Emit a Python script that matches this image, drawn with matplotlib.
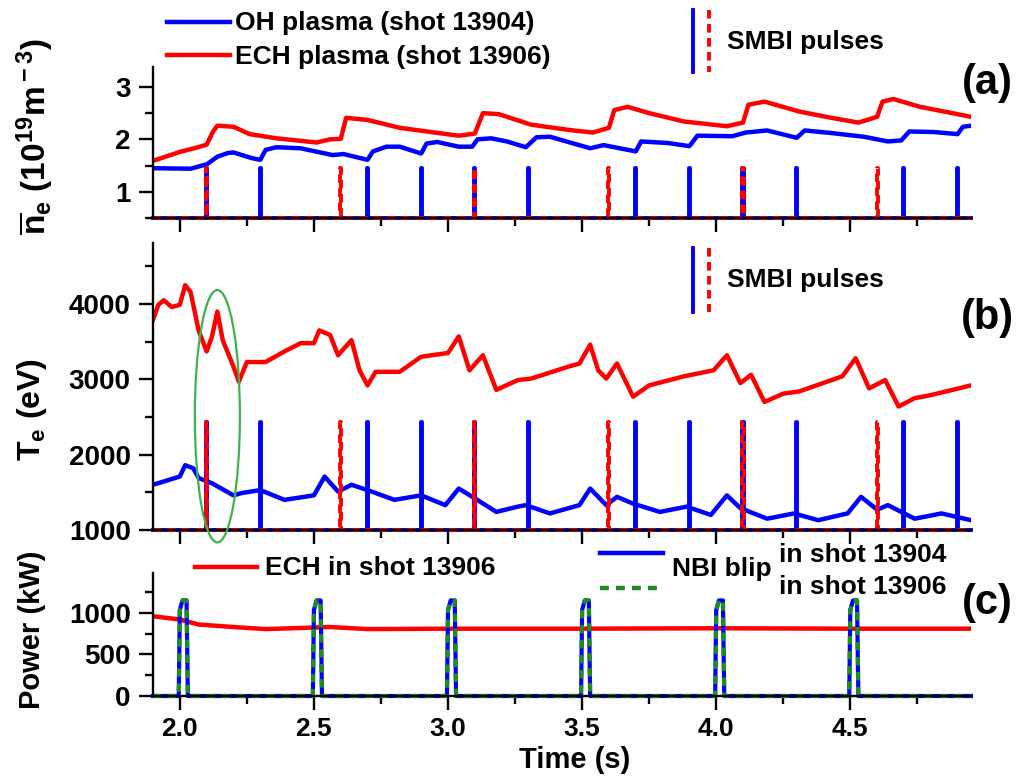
import numpy as np
import matplotlib
matplotlib.use('Agg')
import matplotlib.pyplot as plt
from matplotlib.lines import Line2D
from matplotlib.patches import Ellipse
from matplotlib.ticker import MultipleLocator, FormatStrFormatter

plt.rcParams['font.family'] = 'Liberation Sans'
plt.rcParams['font.weight'] = 'bold'
plt.rcParams['mathtext.fontset'] = 'custom'
plt.rcParams['mathtext.rm'] = 'Liberation Sans:bold'
plt.rcParams['mathtext.it'] = 'Liberation Sans:bold'
plt.rcParams['mathtext.bf'] = 'Liberation Sans:bold'

BLUE = '#0000ff'
RED = '#ff0000'
GREEN = '#1e8c1e'

# line-averaged density, OH shot 13904
ne_oh_t = [1.90, 2.04, 2.09, 2.10, 2.14, 2.18, 2.20, 2.27, 2.30, 2.32, 2.36, 2.45, 2.57, 2.61,
           2.70, 2.72, 2.77, 2.82, 2.90, 2.92, 2.96, 3.04, 3.09, 3.11, 3.16, 3.22, 3.29, 3.33,
           3.38, 3.53, 3.58, 3.70, 3.72, 3.82, 3.90, 3.93, 4.06, 4.11, 4.19, 4.30, 4.33, 4.43,
           4.55, 4.64, 4.69, 4.72, 4.81, 4.90, 4.92, 4.95]
ne_oh = [1.45, 1.44, 1.51, 1.52, 1.67, 1.74, 1.75, 1.64, 1.61, 1.80, 1.85, 1.83, 1.70, 1.72,
         1.61, 1.77, 1.86, 1.86, 1.73, 1.92, 1.95, 1.86, 1.86, 2.00, 2.02, 1.96, 1.85, 2.04,
         2.05, 1.83, 1.89, 1.77, 1.96, 1.93, 1.87, 2.07, 2.06, 2.13, 2.17, 2.03, 2.17, 2.12,
         2.05, 1.96, 1.98, 2.15, 2.14, 2.10, 2.24, 2.26]

# line-averaged density, ECH shot 13906
ne_ech_t = [1.90, 2.00, 2.075, 2.10, 2.124, 2.14, 2.20, 2.26, 2.36, 2.51, 2.56, 2.60, 2.62,
            2.70, 2.82, 2.95, 3.04, 3.10, 3.13, 3.19, 3.31, 3.45, 3.54, 3.60, 3.62, 3.67,
            3.75, 3.88, 4.04, 4.10, 4.12, 4.18, 4.31, 4.43, 4.53, 4.60, 4.62, 4.66, 4.76, 4.95]
ne_ech = [1.59, 1.76, 1.86, 1.90, 2.15, 2.26, 2.24, 2.10, 2.02, 1.94, 2.00, 2.01, 2.41,
          2.37, 2.22, 2.13, 2.07, 2.11, 2.50, 2.48, 2.28, 2.18, 2.13, 2.22, 2.56, 2.62,
          2.50, 2.34, 2.25, 2.32, 2.66, 2.72, 2.53, 2.41, 2.32, 2.43, 2.72, 2.77, 2.62, 2.43]

# electron temperature, OH shot 13904
te_oh_t = [1.90, 2.00, 2.02, 2.05, 2.07, 2.12, 2.20, 2.23, 2.30, 2.39, 2.50, 2.54, 2.59, 2.64,
           2.70, 2.80, 2.90, 2.99, 3.04, 3.10, 3.18, 3.26, 3.29, 3.38, 3.49, 3.53, 3.59, 3.63,
           3.69, 3.79, 3.89, 3.98, 4.04, 4.09, 4.19, 4.29, 4.38, 4.49, 4.54, 4.60, 4.64, 4.74,
           4.84, 4.95]
te_oh = [1600, 1710, 1860, 1820, 1690, 1620, 1460, 1490, 1530, 1400, 1460, 1710, 1510, 1600,
         1530, 1400, 1460, 1330, 1550, 1420, 1240, 1310, 1330, 1220, 1330, 1550, 1330, 1440,
         1350, 1240, 1310, 1200, 1460, 1290, 1150, 1220, 1130, 1220, 1440, 1270, 1330, 1150,
         1220, 1130]

# electron temperature, ECH shot 13906
te_ech_t = [1.90, 1.92, 1.94, 1.97, 2.00, 2.02, 2.04, 2.07, 2.10, 2.12, 2.14, 2.16, 2.20, 2.22,
            2.25, 2.32, 2.39, 2.45, 2.50, 2.52, 2.56, 2.59, 2.64, 2.67, 2.70, 2.73, 2.82, 2.90,
            3.00, 3.04, 3.08, 3.13, 3.18, 3.26, 3.31, 3.45, 3.49, 3.53, 3.56, 3.59, 3.63, 3.69,
            3.75, 3.88, 3.99, 4.04, 4.09, 4.13, 4.18, 4.25, 4.31, 4.47, 4.52, 4.57, 4.63, 4.68,
            4.74, 4.80, 4.95]
te_ech = [3790, 3990, 4050, 3960, 3990, 4250, 4160, 3650, 3370, 3570, 3900, 3520, 3170, 2970,
          3230, 3230, 3370, 3480, 3480, 3650, 3590, 3320, 3520, 3120, 2920, 3100, 3100, 3300,
          3350, 3570, 3120, 3320, 2860, 2990, 3010, 3170, 3210, 3460, 3120, 3010, 3210, 2770,
          2920, 3040, 3120, 3320, 2950, 3060, 2700, 2810, 2840, 3040, 3280, 2880, 2990, 2640,
          2750, 2790, 2920]

# SMBI pulse timing
smbi_oh = [2.1, 2.3, 2.7, 2.9, 3.1, 3.3, 3.7, 3.9, 4.1, 4.3, 4.7, 4.9]
smbi_ech = [2.1, 2.6, 3.1, 3.6, 4.1, 4.6]
smbi_ne_height = 1.45
smbi_te_height = 2430

# heating power
ech_pow_t = [1.90, 2.00, 2.07, 2.20, 2.32, 2.56, 2.70, 3.00, 3.50, 4.00, 4.50, 4.95]
ech_pow = [960, 920, 860, 830, 805, 830, 805, 810, 810, 815, 810, 810]
nbi_blip = [2.0, 2.5, 3.0, 3.5, 4.0, 4.5]
nbi_peak = 1150

T0, T1 = 1.9, 4.95


def pulse_train(times, height, base, width=0.002):
    t, v = [T0], [base]
    for tp in times:
        t += [tp - width, tp - width, tp + width, tp + width]
        v += [base, height, height, base]
    t.append(T1)
    v.append(base)
    return np.array(t), np.array(v)


def blip_train(times, peak, dur=0.03):
    t, v = [T0], [0]
    for tb in times:
        t += [tb - 0.004, tb, tb + 0.01, tb + 0.02, tb + dur - 0.005, tb + dur]
        v += [0, 0.9 * peak, peak, peak, peak, 0]
    t.append(T1)
    v.append(0)
    return np.array(t), np.array(v)


W, H = 1022, 776
fig = plt.figure(figsize=(W / 100, H / 100), dpi=100)


def fx(x):
    return x / W


def fy(y):
    return 1 - y / H


L, R = 153, 971
ax_a = fig.add_axes([fx(L), fy(218), fx(R - L), 151 / H])
ax_b = fig.add_axes([fx(L), fy(530), fx(R - L), 287 / H])
ax_c = fig.add_axes([fx(L), fy(696), fx(R - L), 123 / H])

red_dash = (0, (2.2, 1.4))
green_dash = (0, (2.0, 1.6))

# (a) density
ax_a.plot(ne_oh_t, ne_oh, color=BLUE, lw=3.2)
ax_a.plot(ne_ech_t, ne_ech, color=RED, lw=3.2)
t, v = pulse_train(smbi_oh, smbi_ne_height, 0.5)
ax_a.plot(t, v, color=BLUE, lw=2.8, clip_on=False)
t, v = pulse_train(smbi_ech, smbi_ne_height, 0.5)
ax_a.plot(t, v, color=RED, lw=2.8, ls=red_dash, clip_on=False)
ax_a.set_ylim(0.5, 3.38)
ax_a.yaxis.set_major_locator(MultipleLocator(1))
ax_a.yaxis.set_minor_locator(MultipleLocator(0.5))

# (b) temperature
ax_b.plot(te_oh_t, te_oh, color=BLUE, lw=3.2)
ax_b.plot(te_ech_t, te_ech, color=RED, lw=3.2)
t, v = pulse_train(smbi_oh, smbi_te_height, 1000)
ax_b.plot(t, v, color=BLUE, lw=2.8, clip_on=False)
t, v = pulse_train(smbi_ech, smbi_te_height, 1000)
ax_b.plot(t, v, color=RED, lw=2.8, ls=red_dash, clip_on=False)
ax_b.set_ylim(1000, 4810)
ax_b.yaxis.set_major_locator(MultipleLocator(1000))
ax_b.yaxis.set_minor_locator(MultipleLocator(500))
ax_b.add_patch(Ellipse((2.14, 2510), 0.168, 3350, fill=False, ec='#3cb44b',
                       lw=1.6, clip_on=False, zorder=5))

# (c) power
ax_c.plot(ech_pow_t, ech_pow, color=RED, lw=3.2)
t, v = blip_train(nbi_blip, nbi_peak)
ax_c.plot(t, v, color=BLUE, lw=3, clip_on=False)
ax_c.plot(t, v, color=GREEN, lw=3, ls=green_dash, clip_on=False)
ax_c.set_ylim(0, 1480)
ax_c.yaxis.set_major_locator(MultipleLocator(500))
ax_c.yaxis.set_minor_locator(MultipleLocator(250))

for ax in (ax_a, ax_b, ax_c):
    ax.set_xlim(T0, T1)
    ax.xaxis.set_major_locator(MultipleLocator(0.5))
    ax.xaxis.set_minor_locator(MultipleLocator(0.25))
    for s in ('top', 'right'):
        ax.spines[s].set_visible(False)
    for s in ('left', 'bottom'):
        ax.spines[s].set_linewidth(1.7)
    ax.tick_params(which='major', direction='out', length=10, width=1.7, labelsize=20)
    ax.tick_params(which='minor', direction='out', length=6, width=1.7)
    ax.tick_params(axis='x', which='major', pad=5, labelsize=19)
    ax.tick_params(axis='y', which='major', pad=6)
    ax.patch.set_alpha(0)
ax_a.tick_params(axis='x', labelbottom=False)
ax_b.tick_params(axis='x', labelbottom=False)
ax_c.xaxis.set_major_formatter(FormatStrFormatter('%.1f'))

# axis titles
fig.text(fx(35), fy(137), r'$\overline{\rm n}_{\rm e}$ (10$^{\rm 19}$m$^{\rm -3}$)',
         rotation=90, ha='center', va='center', fontsize=24)
fig.text(fx(32), fy(410), r'T$_{\rm e}$ (eV)', rotation=90, ha='center', va='center',
         fontsize=23)
fig.text(fx(32), fy(630), 'Power (kW)', rotation=90, ha='center', va='center', fontsize=21)
fig.text(fx(575), fy(774), 'Time (s)', ha='center', va='bottom', fontsize=21)

# panel tags
for tag, y in (('(a)', 83), ('(b)', 318), ('(c)', 603)):
    fig.text(fx(987), fy(y), tag, ha='center', va='center', fontsize=30)

# legends
fs = 19
fig.add_artist(Line2D([fx(167), fx(230)], [fy(22), fy(22)], color=BLUE, lw=3.2))
fig.text(fx(235), fy(23), 'OH plasma (shot 13904)', va='center', fontsize=fs)
fig.add_artist(Line2D([fx(167), fx(230)], [fy(55), fy(55)], color=RED, lw=3.2))
fig.text(fx(235), fy(57), 'ECH plasma (shot 13906)', va='center', fontsize=fs)

for ytop, ybot, yt in ((10, 72, 42), (248, 312, 280)):
    fig.add_artist(Line2D([fx(693), fx(693)], [fy(ytop), fy(ybot)], color=BLUE, lw=2.8))
    fig.add_artist(Line2D([fx(709), fx(709)], [fy(ytop), fy(ybot)], color=RED, lw=2.8,
                          ls=red_dash))
    fig.text(fx(727), fy(yt), 'SMBI pulses', va='center', fontsize=fs)

fig.add_artist(Line2D([fx(195), fx(257)], [fy(567), fy(567)], color=RED, lw=3.2))
fig.text(fx(265), fy(568), 'ECH in shot 13906', va='center', fontsize=fs)
fig.add_artist(Line2D([fx(600), fx(663)], [fy(553), fy(553)], color=BLUE, lw=3.2))
fig.add_artist(Line2D([fx(600), fx(663)], [fy(588), fy(588)], color=GREEN, lw=3.2,
                      ls=green_dash))
fig.text(fx(672), fy(569), 'NBI blip', va='center', fontsize=fs)
fig.text(fx(779), fy(555), 'in shot 13904', va='center', fontsize=fs)
fig.text(fx(779), fy(587), 'in shot 13906', va='center', fontsize=fs)

fig.savefig('out.png', dpi=100)
